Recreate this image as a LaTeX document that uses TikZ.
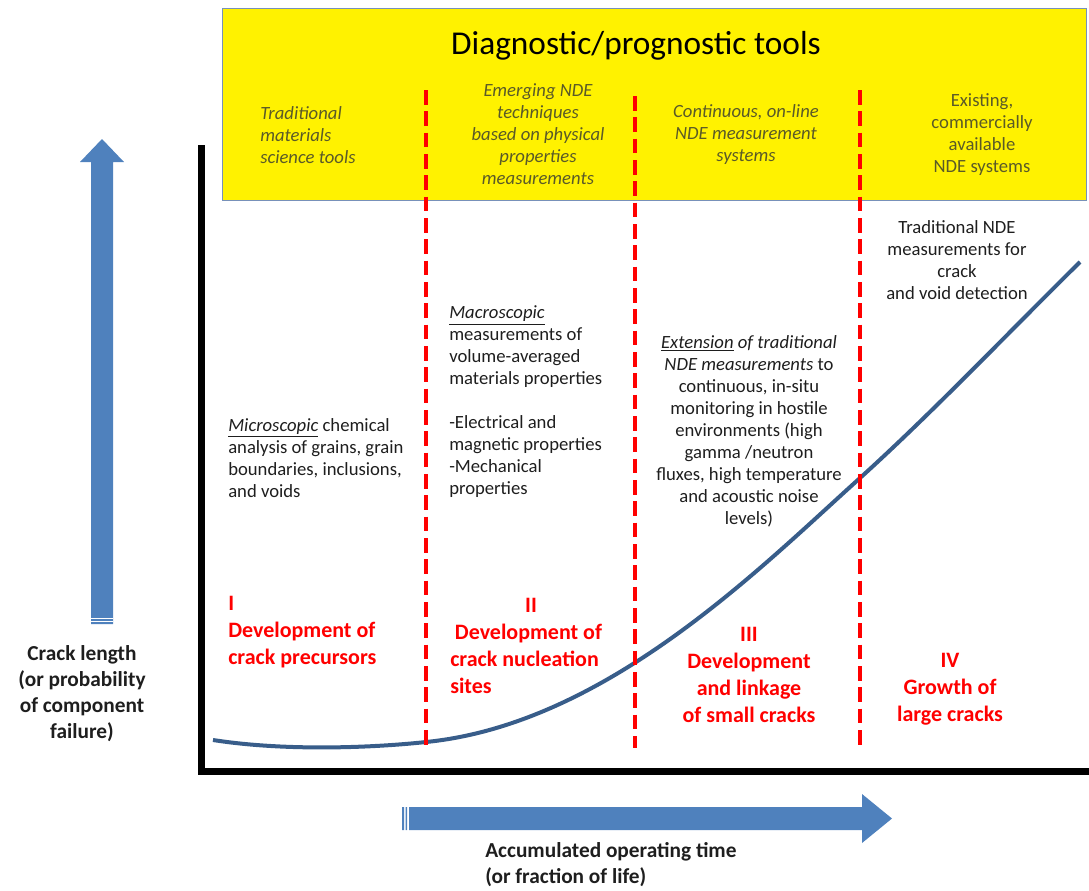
\documentclass[tikz,border=0pt]{standalone}
\usepackage{fontspec}
\setmainfont{Carlito}
\definecolor{arrowblue}{RGB}{79,129,189}
\definecolor{curveblue}{RGB}{56,93,138}
\definecolor{toolgray}{RGB}{90,90,40}
\definecolor{boxedge}{RGB}{120,145,185}
\definecolor{bodytext}{RGB}{30,30,30}
\tikzset{
  tool/.style={font=\fontsize{14}{16.5}\selectfont\itshape, text=toolgray, inner sep=0pt},
  body/.style={font=\fontsize{14}{16.5}\selectfont, text=bodytext, inner sep=0pt},
  stage/.style={font=\fontsize{16.5}{20.25}\selectfont\bfseries, text=red, inner sep=0pt},
  axislabel/.style={font=\fontsize{16}{19.5}\selectfont\bfseries, text=bodytext, inner sep=0pt},
  phase/.style={red, line width=3.3pt, dash pattern=on 11pt off 5pt},
  life/.style={curveblue, line width=3pt}
}
\begin{document}
\begin{tikzpicture}[x=0.75pt,y=-0.75pt]
\useasboundingbox (0,0) rectangle (1089,890);
\draw[fill=yellow, draw=boxedge, line width=0.75pt] (222,8) rectangle (1086,200);
\node[font=\fontsize{25}{29}\selectfont, inner sep=0pt] (title) at (636,46) {Diagnostic/prognostic tools};
\node[tool, align=left, anchor=west] (matsci) at (260,135) {Traditional\\materials\\science tools};
\node[tool, align=center] (emerging) at (538,134.5) {Emerging NDE\\techniques\\based on physical\\properties\\measurements};
\node[tool, align=center] (online) at (746,135) {Continuous, on-line\\NDE measurement\\systems};
\node[tool, align=center, font=\fontsize{14}{16.5}\selectfont\upshape] (existing) at (982,135) {Existing,\\commercially\\available\\NDE systems};

\draw[line width=5.25pt] (201,145) -- (201,771) -- (1089,771);
\draw[life] (213,740) .. controls (290,752) and (380,747) .. (426,742)
  .. controls (606,724) and (760,568) .. (860,478)
  .. controls (933,412) and (1007,334) .. (1080,262);
\foreach \x/\top in {426/90, 635/96, 860/90}
  \draw[phase] (\x,\top) -- (\x,748);

\node[body, align=left, anchor=west] (micro) at (228,458) {\underline{\textit{Microscopic}} chemical\\analysis of grains, grain\\boundaries, inclusions,\\and voids};
\node[body, align=left, anchor=west] (macro) at (449,402) {\underline{\textit{Macroscopic}}\\measurements of\\volume-averaged\\materials properties\\[16.5pt]-Electrical and\\magnetic properties\\-Mechanical\\properties};
\node[body, align=center] (extension) at (749,431.5) {\underline{\textit{Extension}}\textit{ of traditional}\\\textit{NDE measurements} to\\continuous, in-situ\\monitoring in hostile\\environments (high\\gamma /neutron\\fluxes, high temperature\\and acoustic noise\\levels)};
\node[body, align=center] (tradnde) at (957,260) {Traditional NDE\\measurements for\\crack\\and void detection};

\node[stage, align=left, anchor=west] (precursor) at (228,632) {I\\Development of\\crack precursors};
\node[stage] (nucnum) at (531,605) {II};
\node[stage, align=left, anchor=west] (nucleation) at (450,659) {\hspace*{3.5pt}Development of\\crack nucleation\\sites};
\node[stage, align=center] (linkage) at (749,674.5) {III\\Development\\and linkage\\of small cracks};
\node[stage, align=center] (growth) at (950,689) {IV\\Growth of\\large cracks};

\fill[arrowblue] (91,624) -- (91,162) -- (80,162) -- (102,139) -- (124,162) -- (113,162) -- (113,624) -- cycle;
\draw[white, line width=0.75pt] (91,618) -- (113,618) (91,621) -- (113,621);
\fill[arrowblue] (409,807) -- (862,807) -- (862,794) -- (892,818.5) -- (862,843) -- (862,830) -- (409,830) -- cycle;
\fill[arrowblue] (402,807) rectangle (404,830) (405.5,807) rectangle (407,830);

\node[axislabel, align=center] (crack) at (82,694) {Crack length\\(or probability\\of component\\failure)};
\node[axislabel, align=left, anchor=west] (optime) at (485,865) {Accumulated operating time\\(or fraction of life)};
\end{tikzpicture}
\end{document}
